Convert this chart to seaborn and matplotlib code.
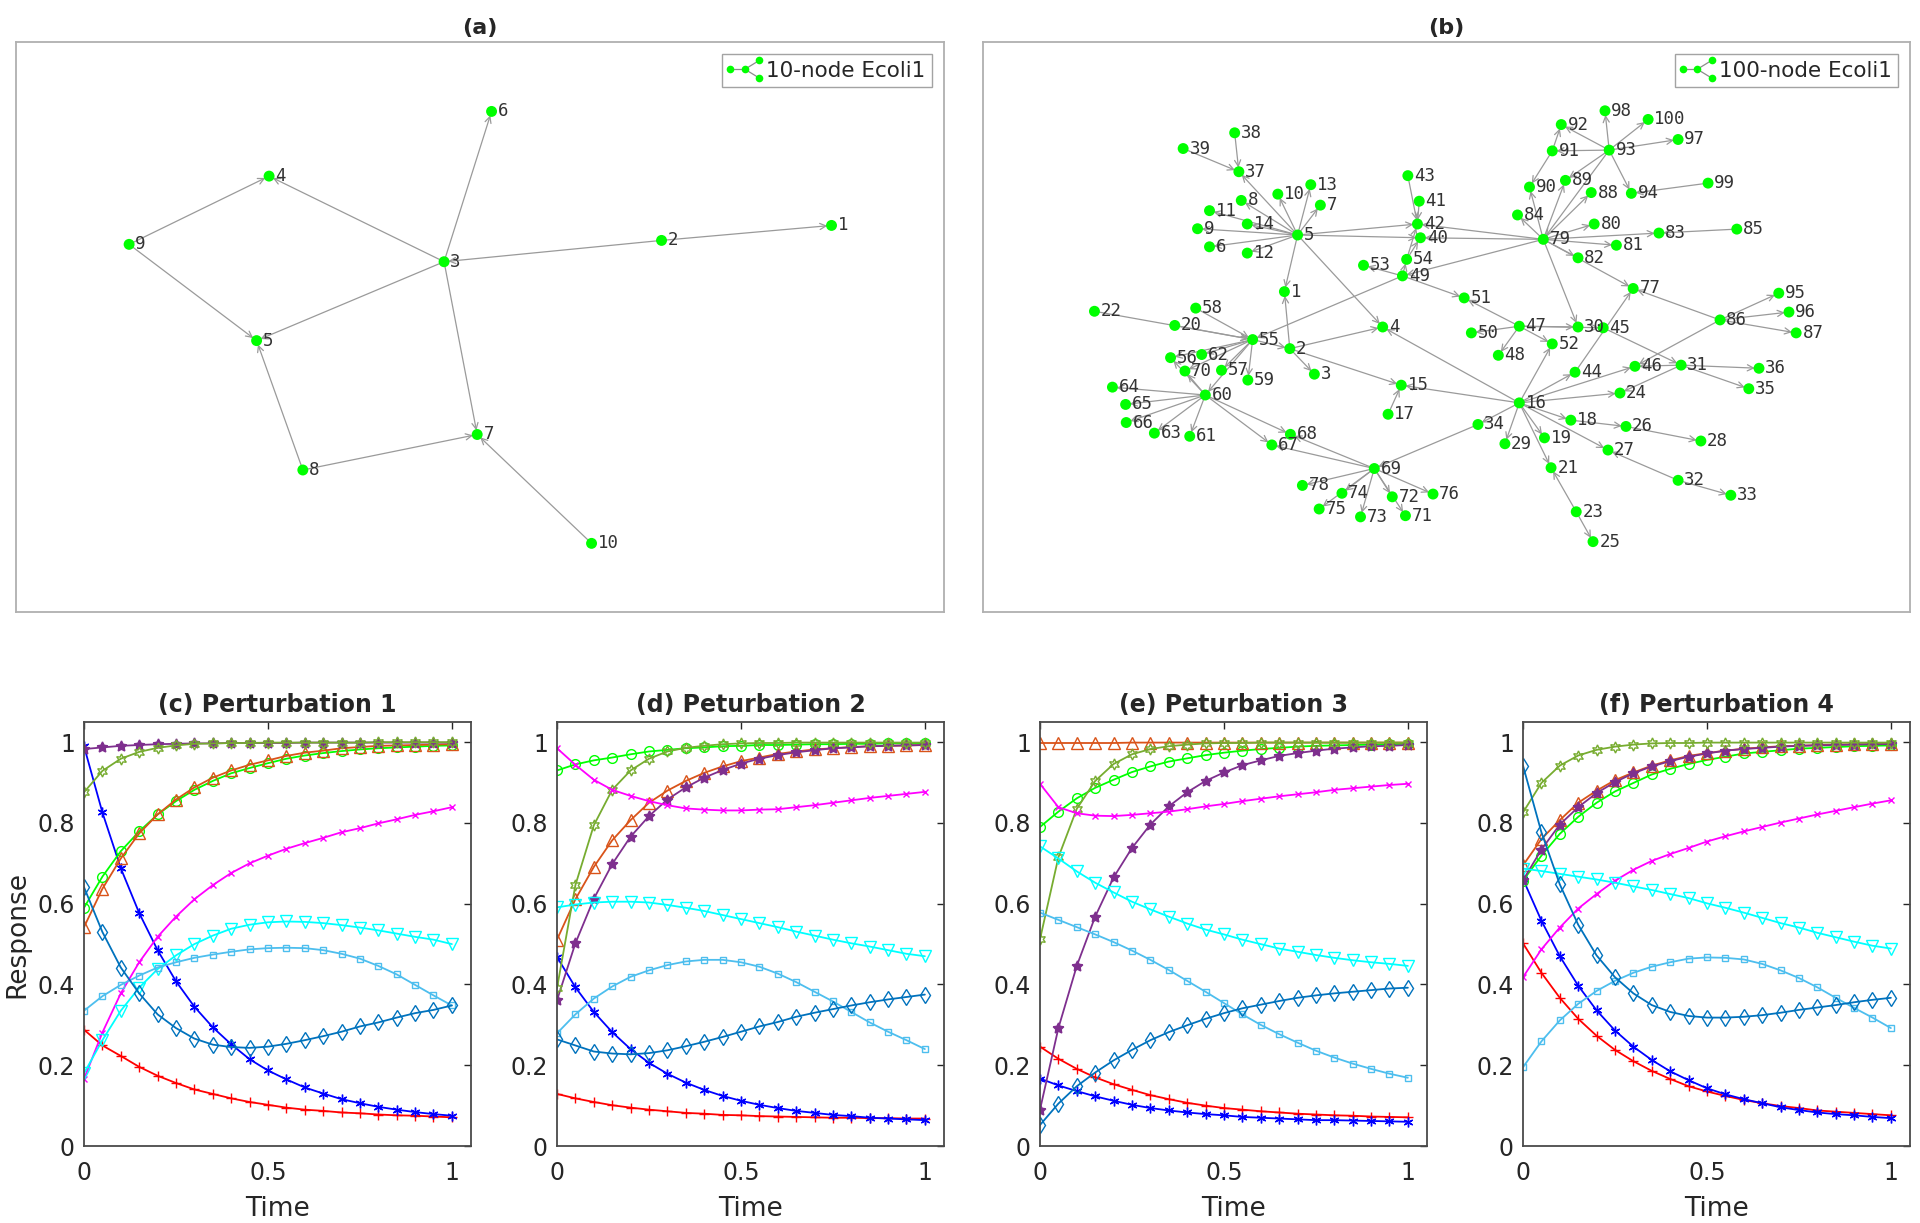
import numpy as np
import pandas as pd
import seaborn as sns
import matplotlib.pyplot as plt
from matplotlib.lines import Line2D
from matplotlib.legend_handler import HandlerBase
from matplotlib.transforms import offset_copy

# ---------------- network (a): 10-node Ecoli1 (layout units) ----------------
a_node_x = [1330, 1058, 710, 430, 410, 786, 763, 484, 206, 946]
a_node_y = [570, 608, 662, 445, 862, 281, 1100, 1190, 618, 1376]
a_src = [9, 9, 3, 3, 3, 3, 2, 2, 8, 8, 10]
a_dst = [4, 5, 4, 5, 6, 7, 3, 1, 5, 7, 7]

# ---------------- network (b): 100-node Ecoli1 ----------------
b_node_x = [508, 517, 558, 672, 530, 383, 568, 436, 363, 497,
            383, 446, 552, 446, 703, 900, 681, 986, 942, 325,
            953, 191, 995, 1068, 1023, 1078, 1048, 1203, 876, 998,
            1170, 1165, 1253, 831, 1283, 1300, 432, 425, 339, 735,
            733, 730, 714, 993, 1040, 1093, 900, 865, 705, 820,
            808, 955, 640, 712, 455, 318, 403, 360, 447, 376,
            350, 370, 291, 221, 243, 244, 487, 518, 658, 342,
            710, 688, 635, 604, 566, 756, 1090, 538, 940, 1025,
            1062, 998, 1133, 897, 1263, 1235, 1362, 1020, 977, 917,
            955, 970, 1050, 1087, 1333, 1350, 1165, 1043, 1215, 1115]
b_node_y = [740, 885, 950, 830, 596, 626, 520, 508, 580, 492,
            534, 642, 468, 568, 978, 1023, 1052, 1067, 1112, 826,
            1188, 790, 1300, 998, 1376, 1083, 1143, 1120, 1127, 830,
            927, 1220, 1258, 1078, 987, 935, 435, 336, 376, 603,
            510, 568, 445, 945, 832, 930, 828, 902, 700, 845,
            756, 873, 673, 658, 862, 908, 940, 782, 965, 1003,
            1108, 900, 1100, 983, 1027, 1073, 1130, 1103, 1190, 942,
            1310, 1262, 1313, 1253, 1293, 1255, 732, 1233, 607, 568,
            622, 654, 591, 545, 581, 812, 845, 488, 457, 474,
            382, 315, 380, 490, 744, 792, 353, 280, 464, 302]
b_src = [5, 38, 39, 5, 5, 5, 5, 5, 5, 5, 5, 5, 5, 5, 5, 5,
         43, 41, 79, 54, 79, 54, 49, 49, 49, 79, 49,
         47, 47, 47, 47, 47, 47,
         79, 79, 79, 79, 79, 79, 79, 79, 79, 79, 93,
         93, 93, 93, 93, 93, 93, 93, 91, 91, 99, 85,
         86, 44, 86, 86, 86, 86,
         16, 16, 16, 16, 18, 26, 16, 32, 32, 16, 16, 23, 23, 16, 16, 34,
         16, 16, 16, 17, 2, 2, 2, 2, 55,
         31, 31, 31, 31, 45,
         22, 20, 58, 55, 55, 55, 55, 55, 55,
         60, 60, 60, 60, 60, 60, 60, 60, 60,
         69, 69, 69, 69, 69, 69, 69, 69, 69]
b_dst = [37, 37, 37, 8, 10, 13, 7, 11, 14, 9, 6, 12, 42, 40, 1, 4,
         42, 42, 42, 42, 40, 40, 54, 53, 51, 49, 55,
         51, 50, 48, 52, 30, 45,
         84, 90, 89, 88, 80, 81, 82, 83, 77, 30, 79,
         91, 92, 98, 100, 97, 89, 94, 92, 90, 94, 83,
         77, 77, 95, 96, 87, 46,
         44, 46, 24, 18, 26, 28, 27, 27, 33, 19, 21, 21, 25, 29, 34, 69,
         52, 4, 15, 15, 15, 4, 3, 1, 2,
         24, 36, 35, 46, 31,
         55, 55, 55, 56, 62, 70, 57, 59, 60,
         64, 65, 66, 63, 61, 67, 68, 70, 56,
         67, 68, 78, 74, 75, 73, 72, 71, 76]

# ---------------- responses ----------------
time = [0.00, 0.05, 0.10, 0.15, 0.20, 0.25, 0.30, 0.35, 0.40, 0.45, 0.50,
        0.55, 0.60, 0.65, 0.70, 0.75, 0.80, 0.85, 0.90, 0.95, 1.00]

p1_red = [0.288, 0.249, 0.223, 0.196, 0.174, 0.156, 0.140, 0.129, 0.118, 0.109, 0.102, 0.095, 0.090, 0.087, 0.083, 0.081, 0.078, 0.076, 0.075, 0.073, 0.071]
p1_blue = [0.990, 0.826, 0.688, 0.577, 0.485, 0.408, 0.345, 0.294, 0.252, 0.215, 0.187, 0.165, 0.145, 0.130, 0.116, 0.106, 0.097, 0.090, 0.084, 0.079, 0.075]
p1_green = [0.590, 0.667, 0.730, 0.779, 0.821, 0.854, 0.882, 0.904, 0.923, 0.936, 0.948, 0.959, 0.967, 0.973, 0.978, 0.982, 0.985, 0.987, 0.989, 0.991, 0.992]
p1_orange = [0.542, 0.637, 0.712, 0.774, 0.821, 0.858, 0.888, 0.912, 0.930, 0.944, 0.955, 0.966, 0.974, 0.979, 0.985, 0.988, 0.991, 0.992, 0.993, 0.994, 0.995]
p1_purple = [0.983, 0.987, 0.991, 0.993, 0.995, 0.996, 0.997, 0.997, 0.998, 0.998, 0.998, 0.998, 0.999, 0.999, 0.999, 0.999, 0.999, 0.999, 0.999, 0.999, 0.999]
p1_olive = [0.876, 0.929, 0.959, 0.976, 0.986, 0.992, 0.996, 0.997, 0.998, 0.998, 0.999, 0.999, 0.999, 0.999, 0.999, 0.999, 1.000, 1.000, 1.000, 1.000, 1.000]
p1_magenta = [0.166, 0.281, 0.378, 0.455, 0.518, 0.568, 0.611, 0.646, 0.676, 0.700, 0.719, 0.736, 0.750, 0.763, 0.777, 0.787, 0.799, 0.809, 0.820, 0.829, 0.839]
p1_cyan = [0.180, 0.262, 0.335, 0.392, 0.438, 0.472, 0.500, 0.521, 0.538, 0.548, 0.554, 0.556, 0.555, 0.552, 0.547, 0.541, 0.534, 0.526, 0.518, 0.511, 0.500]
p1_sky = [0.335, 0.371, 0.399, 0.422, 0.442, 0.455, 0.466, 0.474, 0.481, 0.487, 0.490, 0.491, 0.490, 0.485, 0.476, 0.464, 0.446, 0.425, 0.399, 0.373, 0.348]
p1_navy = [0.641, 0.530, 0.442, 0.378, 0.326, 0.292, 0.266, 0.251, 0.245, 0.243, 0.246, 0.253, 0.262, 0.272, 0.283, 0.296, 0.306, 0.318, 0.329, 0.337, 0.348]

p2_red = [0.129, 0.118, 0.109, 0.101, 0.095, 0.090, 0.086, 0.082, 0.080, 0.077, 0.076, 0.074, 0.073, 0.072, 0.071, 0.070, 0.070, 0.069, 0.069, 0.068, 0.068]
p2_blue = [0.468, 0.393, 0.332, 0.282, 0.240, 0.206, 0.179, 0.157, 0.139, 0.124, 0.112, 0.102, 0.094, 0.087, 0.082, 0.077, 0.074, 0.070, 0.068, 0.066, 0.064]
p2_green = [0.930, 0.945, 0.955, 0.962, 0.970, 0.977, 0.981, 0.985, 0.987, 0.990, 0.991, 0.993, 0.993, 0.994, 0.995, 0.995, 0.996, 0.996, 0.997, 0.997, 0.997]
p2_orange = [0.511, 0.611, 0.691, 0.757, 0.807, 0.850, 0.880, 0.904, 0.924, 0.940, 0.953, 0.962, 0.971, 0.977, 0.982, 0.985, 0.988, 0.990, 0.991, 0.992, 0.993]
p2_purple = [0.361, 0.502, 0.612, 0.698, 0.766, 0.817, 0.858, 0.888, 0.912, 0.931, 0.947, 0.959, 0.968, 0.975, 0.980, 0.985, 0.987, 0.990, 0.991, 0.992, 0.993]
p2_olive = [0.391, 0.646, 0.794, 0.882, 0.930, 0.959, 0.977, 0.986, 0.991, 0.995, 0.997, 0.998, 0.998, 0.999, 0.999, 0.999, 0.999, 0.999, 0.999, 0.999, 0.999]
p2_magenta = [0.985, 0.944, 0.907, 0.882, 0.867, 0.854, 0.844, 0.836, 0.833, 0.831, 0.831, 0.833, 0.834, 0.839, 0.844, 0.850, 0.856, 0.862, 0.867, 0.872, 0.877]
p2_cyan = [0.591, 0.598, 0.603, 0.605, 0.605, 0.603, 0.597, 0.590, 0.582, 0.572, 0.562, 0.552, 0.542, 0.531, 0.521, 0.511, 0.502, 0.494, 0.485, 0.476, 0.470]
p2_sky = [0.279, 0.326, 0.365, 0.395, 0.419, 0.435, 0.448, 0.457, 0.461, 0.461, 0.455, 0.444, 0.427, 0.406, 0.382, 0.358, 0.332, 0.306, 0.283, 0.262, 0.240]
p2_navy = [0.264, 0.249, 0.234, 0.229, 0.227, 0.230, 0.237, 0.247, 0.258, 0.270, 0.283, 0.296, 0.307, 0.320, 0.330, 0.339, 0.348, 0.356, 0.363, 0.369, 0.375]

p3_red = [0.246, 0.216, 0.191, 0.170, 0.153, 0.139, 0.126, 0.116, 0.107, 0.100, 0.094, 0.090, 0.086, 0.083, 0.080, 0.078, 0.076, 0.075, 0.073, 0.072, 0.071]
p3_blue = [0.167, 0.150, 0.136, 0.123, 0.112, 0.102, 0.094, 0.088, 0.083, 0.079, 0.076, 0.072, 0.070, 0.068, 0.066, 0.064, 0.064, 0.063, 0.062, 0.061, 0.060]
p3_green = [0.790, 0.828, 0.861, 0.887, 0.907, 0.926, 0.940, 0.952, 0.960, 0.968, 0.974, 0.979, 0.983, 0.986, 0.989, 0.991, 0.992, 0.993, 0.994, 0.995, 0.996]
p3_orange = [0.998, 0.998, 0.998, 0.998, 0.998, 0.999, 0.999, 0.999, 0.999, 0.999, 0.999, 0.999, 0.999, 0.999, 0.999, 0.999, 0.999, 0.999, 0.999, 0.999, 0.999]
p3_purple = [0.090, 0.292, 0.446, 0.568, 0.665, 0.738, 0.796, 0.841, 0.876, 0.904, 0.925, 0.943, 0.955, 0.966, 0.973, 0.979, 0.984, 0.987, 0.990, 0.991, 0.993]
p3_olive = [0.512, 0.715, 0.835, 0.904, 0.946, 0.970, 0.983, 0.990, 0.994, 0.997, 0.998, 0.998, 0.999, 0.999, 0.999, 0.999, 0.999, 0.999, 0.999, 0.999, 0.999]
p3_magenta = [0.897, 0.839, 0.824, 0.818, 0.817, 0.820, 0.824, 0.828, 0.834, 0.841, 0.847, 0.854, 0.860, 0.866, 0.871, 0.876, 0.882, 0.886, 0.890, 0.894, 0.897]
p3_cyan = [0.742, 0.712, 0.680, 0.652, 0.628, 0.605, 0.586, 0.568, 0.551, 0.536, 0.524, 0.511, 0.500, 0.489, 0.481, 0.473, 0.466, 0.460, 0.455, 0.451, 0.446]
p3_sky = [0.578, 0.560, 0.542, 0.524, 0.505, 0.484, 0.461, 0.436, 0.409, 0.382, 0.354, 0.326, 0.300, 0.277, 0.256, 0.236, 0.219, 0.204, 0.191, 0.179, 0.169]
p3_navy = [0.052, 0.105, 0.148, 0.182, 0.212, 0.238, 0.262, 0.282, 0.299, 0.315, 0.329, 0.341, 0.350, 0.359, 0.367, 0.373, 0.378, 0.382, 0.386, 0.390, 0.392]

p4_red = [0.502, 0.429, 0.367, 0.315, 0.273, 0.238, 0.210, 0.186, 0.166, 0.148, 0.135, 0.124, 0.114, 0.106, 0.099, 0.094, 0.088, 0.085, 0.082, 0.079, 0.076]
p4_blue = [0.661, 0.558, 0.470, 0.397, 0.336, 0.286, 0.246, 0.213, 0.185, 0.163, 0.143, 0.128, 0.116, 0.106, 0.096, 0.089, 0.083, 0.079, 0.076, 0.072, 0.069]
p4_green = [0.657, 0.719, 0.773, 0.815, 0.850, 0.878, 0.899, 0.920, 0.934, 0.946, 0.956, 0.964, 0.972, 0.976, 0.980, 0.984, 0.986, 0.988, 0.990, 0.991, 0.992]
p4_orange = [0.695, 0.760, 0.807, 0.850, 0.880, 0.906, 0.925, 0.942, 0.955, 0.966, 0.973, 0.979, 0.984, 0.987, 0.990, 0.991, 0.993, 0.994, 0.995, 0.995, 0.996]
p4_purple = [0.658, 0.734, 0.796, 0.839, 0.874, 0.901, 0.923, 0.940, 0.953, 0.964, 0.972, 0.979, 0.983, 0.986, 0.989, 0.991, 0.992, 0.993, 0.994, 0.995, 0.995]
p4_olive = [0.826, 0.899, 0.942, 0.967, 0.981, 0.989, 0.994, 0.997, 0.998, 0.998, 0.999, 0.999, 0.999, 0.999, 0.999, 0.999, 0.999, 0.999, 0.999, 0.999, 0.999]
p4_magenta = [0.418, 0.487, 0.541, 0.588, 0.624, 0.657, 0.684, 0.706, 0.723, 0.738, 0.754, 0.767, 0.779, 0.790, 0.801, 0.811, 0.821, 0.830, 0.839, 0.848, 0.856]
p4_cyan = [0.687, 0.681, 0.674, 0.667, 0.660, 0.652, 0.643, 0.634, 0.624, 0.614, 0.601, 0.590, 0.578, 0.565, 0.552, 0.541, 0.528, 0.517, 0.506, 0.496, 0.489]
p4_sky = [0.195, 0.259, 0.311, 0.352, 0.384, 0.409, 0.429, 0.444, 0.455, 0.464, 0.467, 0.466, 0.462, 0.451, 0.435, 0.416, 0.393, 0.367, 0.342, 0.318, 0.292]
p4_navy = [0.942, 0.777, 0.648, 0.548, 0.472, 0.418, 0.378, 0.349, 0.332, 0.322, 0.318, 0.318, 0.320, 0.324, 0.330, 0.337, 0.343, 0.349, 0.356, 0.362, 0.367]

titles = ['(c) Perturbation 1', '(d) Peturbation 2', '(e) Peturbation 3', '(f) Perturbation 4']
panels = [
    [p1_red, p1_blue, p1_green, p1_orange, p1_purple, p1_olive, p1_magenta, p1_cyan, p1_sky, p1_navy],
    [p2_red, p2_blue, p2_green, p2_orange, p2_purple, p2_olive, p2_magenta, p2_cyan, p2_sky, p2_navy],
    [p3_red, p3_blue, p3_green, p3_orange, p3_purple, p3_olive, p3_magenta, p3_cyan, p3_sky, p3_navy],
    [p4_red, p4_blue, p4_green, p4_orange, p4_purple, p4_olive, p4_magenta, p4_cyan, p4_sky, p4_navy],
]

# MATLAB-like series styles: color, marker, size, filled
series_style = [
    ('#FF0000', '+', 7, False),
    ('#0000FF', (6, 2, 0), 7, False),
    ('#00FF00', 'o', 7, False),
    ('#D95319', '^', 8, False),
    ('#7E2F8E', (5, 1, 0), 8, True),
    ('#77AC30', (6, 1, 0), 8, False),
    ('#FF00FF', 'x', 5, False),
    ('#00FFFF', 'v', 8, False),
    ('#4DBEEE', 's', 5, False),
    ('#0072BD', 'd', 8, False),
]

sns.set_style('white')
plt.rcParams['font.family'] = ['DejaVu Sans']

W, H = 1920, 1223
fig = plt.figure(figsize=(W / 100, H / 100), dpi=100)


def px_axes(left, top, right, bottom):
    return fig.add_axes([left / W, 1 - bottom / H, (right - left) / W, (bottom - top) / H])


class MiniGraph(HandlerBase):
    # small graph glyph used as legend handle
    def create_artists(self, legend, orig_handle, xd, yd, width, height, fontsize, trans):
        x0, y0 = -xd, -yd
        gx = [x0 + 0.05 * width, x0 + 0.5 * width, x0 + 0.95 * width, x0 + 0.95 * width]
        gy = [y0 + 0.5 * height, y0 + 0.5 * height, y0 + 1.0 * height, y0 + 0.0 * height]
        arts = []
        for i, j in [(0, 1), (1, 2), (1, 3)]:
            arts.append(Line2D([gx[i], gx[j]], [gy[i], gy[j]], color='#8c8c8c', lw=0.9, transform=trans))
        arts.append(Line2D(gx, gy, ls='none', marker='o', ms=5.5, mfc='#00FF00', mec='none', transform=trans))
        return arts


def draw_network(ax, xs, ys, src, dst, box, title, legend_label):
    for s, d in zip(src, dst):
        ax.annotate('', xy=(xs[d - 1], ys[d - 1]), xytext=(xs[s - 1], ys[s - 1]),
                    arrowprops=dict(arrowstyle='->', color='#9a9a9a', lw=0.9,
                                    shrinkA=3, shrinkB=3, mutation_scale=11), zorder=1)
    sns.scatterplot(x=xs, y=ys, ax=ax, color='#00FF00', s=62, edgecolor='none', zorder=3, legend=False)
    lab_tr = offset_copy(ax.transData, fig=fig, x=4.5, y=0, units='points')
    for i, (x, y) in enumerate(zip(xs, ys)):
        ax.text(x, y, str(i + 1), transform=lab_tr, fontsize=12.5, family='DejaVu Sans Mono',
                color='#333333', ha='left', va='center', zorder=4)
    ax.set_xlim(box[0], box[1])
    ax.set_ylim(box[3], box[2])
    ax.set_xticks([])
    ax.set_yticks([])
    for sp in ax.spines.values():
        sp.set_color('#b0b0b0')
        sp.set_linewidth(1.3)
    ax.set_title(title, fontsize=16, fontweight='bold', pad=6)
    dummy = object()
    leg = ax.legend([dummy], [legend_label], handler_map={dummy: MiniGraph()}, loc='upper right',
                    fontsize=15.5, frameon=True, fancybox=False, handlelength=1.5, handleheight=0.9,
                    handletextpad=0.25, borderpad=0.3, borderaxespad=0.55)
    leg.get_frame().set_edgecolor('#8c8c8c')
    leg.get_frame().set_linewidth(1.0)


ax_a = px_axes(16, 42, 944, 612)
draw_network(ax_a, a_node_x, a_node_y, a_src, a_dst, (25, 1510, 105, 1550), '(a)', '10-node Ecoli1')
ax_b = px_axes(983, 42, 1910, 612)
draw_network(ax_b, b_node_x, b_node_y, b_src, b_dst, (5, 1552, 105, 1555), '(b)', '100-node Ecoli1')

lefts = [84, 557, 1040, 1523]
for k, (left, title, series) in enumerate(zip(lefts, titles, panels)):
    ax = px_axes(left, 722, left + 387, 1146)
    for vals, (col, mk, ms, filled) in zip(series, series_style):
        sns.lineplot(x=time, y=vals, ax=ax, color=col, linewidth=1.3, marker=mk, markersize=ms,
                     markerfacecolor=col if filled else 'none', markeredgecolor=col,
                     markeredgewidth=1.0, legend=False)
    ax.set_xlim(0, 1.052)
    ax.set_ylim(0, 1.05)
    ax.set_xticks([0, 0.5, 1])
    ax.set_xticklabels(['0', '0.5', '1'])
    ax.set_yticks([0, 0.2, 0.4, 0.6, 0.8, 1])
    ax.set_yticklabels(['0', '0.2', '0.4', '0.6', '0.8', '1'])
    ax.tick_params(direction='in', top=True, right=True, length=5, width=1, colors='#262626',
                   labelsize=17)
    ax.tick_params(axis='x', pad=10.5)
    ax.tick_params(axis='y', pad=6.5)
    for sp in ax.spines.values():
        sp.set_color('#4a4a4a')
        sp.set_linewidth(1.3)
    ax.set_xlabel('Time', fontsize=19, labelpad=8)
    ax.set_ylabel('Response' if k == 0 else '', fontsize=19, labelpad=5)
    ax.set_title(title, fontsize=17, fontweight='bold', pad=7)

fig.savefig('out.png', dpi=100)
